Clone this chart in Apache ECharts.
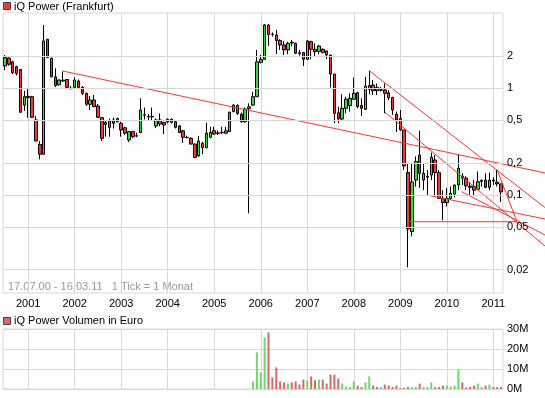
<!DOCTYPE html>
<html><head><meta charset="utf-8">
<script src="https://cdn.jsdelivr.net/npm/echarts@6/dist/echarts.min.js"></script>
<style>html,body{margin:0;padding:0;background:#fff}#c{width:545px;height:398px}</style>
</head><body><div id="c"></div>
<script>
// months Jul 2000 .. Mar 2011
const startYear = 2000, startMonth = 7, monthCount = 129;
const months = [];
for (let i = 0; i < monthCount; i++) {
  const m = startMonth - 1 + i;
  const y = startYear + Math.floor(m / 12);
  const mm = m % 12 + 1;
  months.push(y + '-' + (mm < 10 ? '0' : '') + mm);
}

const open = [1.62,1.92,1.77,1.59,1.50,0.697,0.84,0.834,0.505,0.298,
0.241,2.88,1.91,1.28,1.08,1.17,1.21,1.0,1.02,1.17,
1.02,0.897,0.708,0.777,0.682,0.531,0.479,0.431,0.505,0.52,
0.47,0.427,0.328,0.393,0.36,0.385,0.565,0.545,0.545,0.444,
0.505,0.479,0.483,0.513,0.486,0.444,0.40,0.347,0.34,0.30,
0.232,0.304,0.278,0.347,0.40,0.382,0.383,0.38,0.393,0.605,
0.69,0.571,0.486,0.645,0.697,0.834,1.75,1.87,3.92,3.22,
3.16,2.8,2.55,2.29,2.7,2.64,2.15,2.16,1.87,2.74,
2.32,2.22,2.32,2.24,2.05,1.36,0.59,0.515,0.65,0.69,
0.79,0.91,0.69,0.635,0.98,1.074,1.02,0.96,0.964,0.91,
0.82,0.57,0.52,0.407,0.162,0.0455,0.138,0.237,0.138,0.147,
0.154,0.213,0.162,0.093,0.085,0.093,0.102,0.124,0.15,0.144,
0.121,0.12,0.113,0.134,0.138,0.118,0.138,0.132,0.127];

const close = [1.95,1.68,1.40,1.38,0.596,0.834,0.82,0.535,0.321,0.241,
2.78,1.95,1.28,1.06,1.196,1.19,1.02,0.99,1.196,1.02,
0.897,0.708,0.777,0.673,0.535,0.34,0.459,0.494,0.47,0.486,
0.407,0.38,0.393,0.352,0.357,0.626,0.56,0.54,0.54,0.505,
0.462,0.453,0.513,0.479,0.431,0.385,0.347,0.345,0.30,0.225,
0.321,0.278,0.38,0.385,0.373,0.378,0.387,0.40,0.596,0.697,
0.582,0.486,0.64,0.67,0.834,1.77,1.87,3.92,3.2,3.2,
2.8,2.55,2.29,2.64,2.66,2.13,2.12,1.87,2.78,2.32,
2.2,2.49,2.16,2.05,1.36,0.582,0.515,0.65,0.79,0.806,
0.897,0.673,0.65,1.05,1.06,0.95,0.95,0.97,0.897,0.82,
0.626,0.505,0.407,0.187,0.048,0.1327,0.206,0.16,0.16,0.15,
0.226,0.162,0.093,0.085,0.093,0.104,0.124,0.178,0.144,0.122,
0.118,0.111,0.133,0.137,0.118,0.138,0.135,0.127,0.107];

const low = [1.48,1.63,1.36,1.32,0.59,0.613,0.53,0.53,0.32,0.216,
0.24,1.92,1.27,1.03,1.06,1.15,0.98,0.98,1.0,1.02,
0.865,0.682,0.626,0.67,0.53,0.321,0.352,0.352,0.42,0.48,
0.352,0.365,0.314,0.34,0.348,0.38,0.51,0.50,0.505,0.425,
0.44,0.373,0.47,0.47,0.42,0.38,0.308,0.34,0.30,0.224,
0.228,0.242,0.273,0.34,0.365,0.365,0.372,0.372,0.39,0.596,
0.562,0.476,0.476,0.0675,0.682,0.83,1.71,1.84,2.49,3.05,
2.09,2.29,2.05,2.09,2.47,2.09,2.02,1.62,1.84,1.87,
1.98,2.1,2.13,1.88,1.02,0.47,0.47,0.505,0.584,0.605,
0.777,0.65,0.55,0.626,0.88,0.865,0.865,0.93,0.582,0.777,
0.562,0.39,0.40,0.172,0.021,0.041,0.12,0.117,0.111,0.10,
0.138,0.098,0.092,0.058,0.078,0.09,0.095,0.111,0.124,0.111,
0.10,0.10,0.111,0.12,0.116,0.111,0.124,0.12,0.086];

const high = [2.05,1.95,1.81,1.63,1.51,0.949,1.0,0.85,0.55,0.321,
3.92,2.88,1.95,1.54,1.21,1.44,1.22,1.05,1.27,1.21,
1.05,0.91,0.85,0.865,0.713,0.531,0.505,0.52,0.53,0.53,
0.486,0.436,0.395,0.40,0.385,0.806,0.66,0.575,0.66,0.52,
0.582,0.486,0.52,0.52,0.495,0.453,0.407,0.36,0.347,0.305,
0.358,0.315,0.476,0.436,0.436,0.403,0.436,0.436,0.605,0.708,
0.708,0.593,0.66,0.723,0.93,2.29,2.05,4.0,4.0,3.34,
3.52,2.88,2.78,2.73,2.84,2.68,2.29,2.18,2.84,2.8,
2.64,2.55,2.37,2.24,2.05,1.36,0.673,0.88,0.834,0.897,
1.26,0.93,0.806,1.28,1.46,1.196,1.11,1.03,1.11,0.964,
0.834,0.605,0.626,0.407,0.198,0.2,0.23,0.4,0.198,0.1715,
0.25,0.237,0.1715,0.111,0.116,0.12,0.125,0.24,0.16,0.15,
0.133,0.138,0.166,0.14,0.16,0.162,0.147,0.172,0.128];

// volume in million Euro
const volumeM = [0,0,0,0,0,0,0,0,0,0, 0,0,0,0,0,0,0,0,0,0,
0,0,0,0,0,0,0,0,0,0, 0,0,0,0,0,0,0,0,0,0,
0,0,0,0,0,0,0,0,0,0, 0,0,0,0,0,0,0,0,0,0,
0,0,0,0,3.8,18.3,8.3,25.8,28.3,5.8,
10.8,3.8,3.3,2.7,3.3,3.8,2.2,4.7,4.3,6.3,
4.3,4.7,4.7,2.7,7.2,7.2,5.2,2.7,1.3,1.0,
3.8,1.7,1.0,3.3,6.3,1.7,1.0,1.0,2.2,1.7,
1.0,1.7,0.5,0.5,1.0,1.0,1.0,2.7,1.0,1.0,
3.3,1.0,1.0,1.7,1.7,1.3,1.7,9.7,3.3,0.7,
1.0,1.7,2.7,1.0,1.7,2.2,1.0,1.0,1.0];

const priceTicks = [2, 1, 0.5, 0.2, 0.1, 0.05, 0.02];
const priceTickLabels = ['2', '1', '0,5', '0,2', '0,1', '0,05', '0,02'];

// trend lines: [monthIndex, price] end points
const trendLines = [
  [[14.9, 1.453], [139.33, 0.161]],
  [[94.0, 1.462], [139.33, 0.0762]],
  [[98.06, 0.596], [139.33, 0.0333]],
  [[108.8, 0.100], [139.33, 0.0596]],
  [[117.84, 0.1074], [139.33, 0.0422]],
  [[126.95, 0.1734], [132.1, 0.0562]],
  [[104.3, 0.0562], [132.1, 0.0562]]
];

const FONT = '"Liberation Sans", Arial, sans-serif';
const GRID = '#d8d8d8';
const isJan = (i) => months[i] && months[i].slice(5) === '01';

const candleData = months.map((m, i) => [open[i], close[i], low[i], high[i]]);
const volData = months.map((m, i) => ({
  value: volumeM[i],
  itemStyle: { color: close[i] >= open[i] ? '#66dd66' : '#dd6666' }
}));

const series = [
  {
    type: 'line', xAxisIndex: 0, yAxisIndex: 0, data: months.map(() => null),
    z: 1, silent: true, symbol: 'none',
    markLine: {
      silent: true, symbol: 'none', animation: false,
      lineStyle: { color: GRID, width: 1, type: 'solid' },
      label: { show: true, position: 'end', formatter: '{b}', color: '#000', fontSize: 11, fontFamily: FONT, distance: 4 },
      data: priceTicks.map((v, i) => ({ yAxis: v, name: priceTickLabels[i] }))
    }
  },
  {
    type: 'candlestick', xAxisIndex: 0, yAxisIndex: 0, data: candleData, barWidth: 3, z: 2,
    itemStyle: { color: '#33dd33', color0: '#ff3333', borderColor: '#000', borderColor0: '#000', borderWidth: 1 }
  },
  {
    type: 'bar', xAxisIndex: 1, yAxisIndex: 1, data: volData, barWidth: 2
  }
];
trendLines.forEach(l => series.push({
  type: 'line', xAxisIndex: 2, yAxisIndex: 2, data: l, symbol: 'none', z: 3, silent: true,
  lineStyle: { color: '#ff3333', width: 1 }
}));

const chart = echarts.init(document.getElementById('c'), null, { renderer: 'canvas' });
chart.setOption({
  animation: false,
  backgroundColor: '#fff',
  grid: [
    { left: 3, top: 13, width: 500, height: 280, show: true, borderColor: GRID, borderWidth: 1, outerBoundsMode: 'none' },
    { left: 3, top: 329, width: 500, height: 60, show: true, borderColor: GRID, borderWidth: 1, outerBoundsMode: 'none' },
    // wider overlay grid (same scale) so trend lines can run past the plot edge
    { left: 3, top: 13, width: 542, height: 280, show: false, outerBoundsMode: 'none' }
  ],
  xAxis: [
    {
      type: 'category', gridIndex: 0, data: months, boundaryGap: true,
      axisLine: { show: false }, axisTick: { show: false },
      axisLabel: { interval: (i) => isJan(i), formatter: v => v.slice(0, 4), color: '#000', fontSize: 11, fontFamily: FONT, margin: 5 },
      splitLine: { show: true, interval: (i) => isJan(i), alignWithLabel: true, lineStyle: { color: GRID, width: 1 } }
    },
    {
      type: 'category', gridIndex: 1, data: months, boundaryGap: true,
      axisLine: { show: false }, axisTick: { show: false }, axisLabel: { show: false },
      splitLine: { show: true, interval: (i) => isJan(i), alignWithLabel: true, lineStyle: { color: GRID, width: 1 } }
    },
    { type: 'value', gridIndex: 2, min: -0.5, max: -0.5 + 542 * monthCount / 500, show: false }
  ],
  yAxis: [
    { type: 'log', gridIndex: 0, logBase: 10, min: 0.01207, max: 5.078, show: false },
    {
      type: 'value', gridIndex: 1, min: 0, max: 30, interval: 10, position: 'right',
      axisLine: { show: false }, axisTick: { show: false },
      axisLabel: { formatter: '{value}M', color: '#000', fontSize: 11, fontFamily: FONT, margin: 4 },
      splitLine: { lineStyle: { color: GRID, width: 1 } }
    },
    { type: 'log', gridIndex: 2, logBase: 10, min: 0.01207, max: 5.078, show: false }
  ],
  graphic: [
    { type: 'rect', shape: { x: 3.5, y: 2.5, width: 7, height: 7 }, style: { fill: '#ff3333', stroke: '#444', lineWidth: 1 } },
    { type: 'text', x: 14, y: 6.5, style: { text: 'iQ Power (Frankfurt)', font: '11px ' + FONT, fill: '#000', verticalAlign: 'middle' } },
    { type: 'text', x: 8, y: 287, style: { text: '17.07.00 - 16.03.11   1 Tick = 1 Monat', font: '11px ' + FONT, fill: '#999', verticalAlign: 'middle' } },
    { type: 'rect', shape: { x: 3.5, y: 317.5, width: 7, height: 7 }, style: { fill: '#dd6666', stroke: '#444', lineWidth: 1 } },
    { type: 'text', x: 14, y: 321, style: { text: 'iQ Power Volumen in Euro', font: '11px ' + FONT, fill: '#000', verticalAlign: 'middle' } }
  ],
  series: series
});
</script></body></html>
